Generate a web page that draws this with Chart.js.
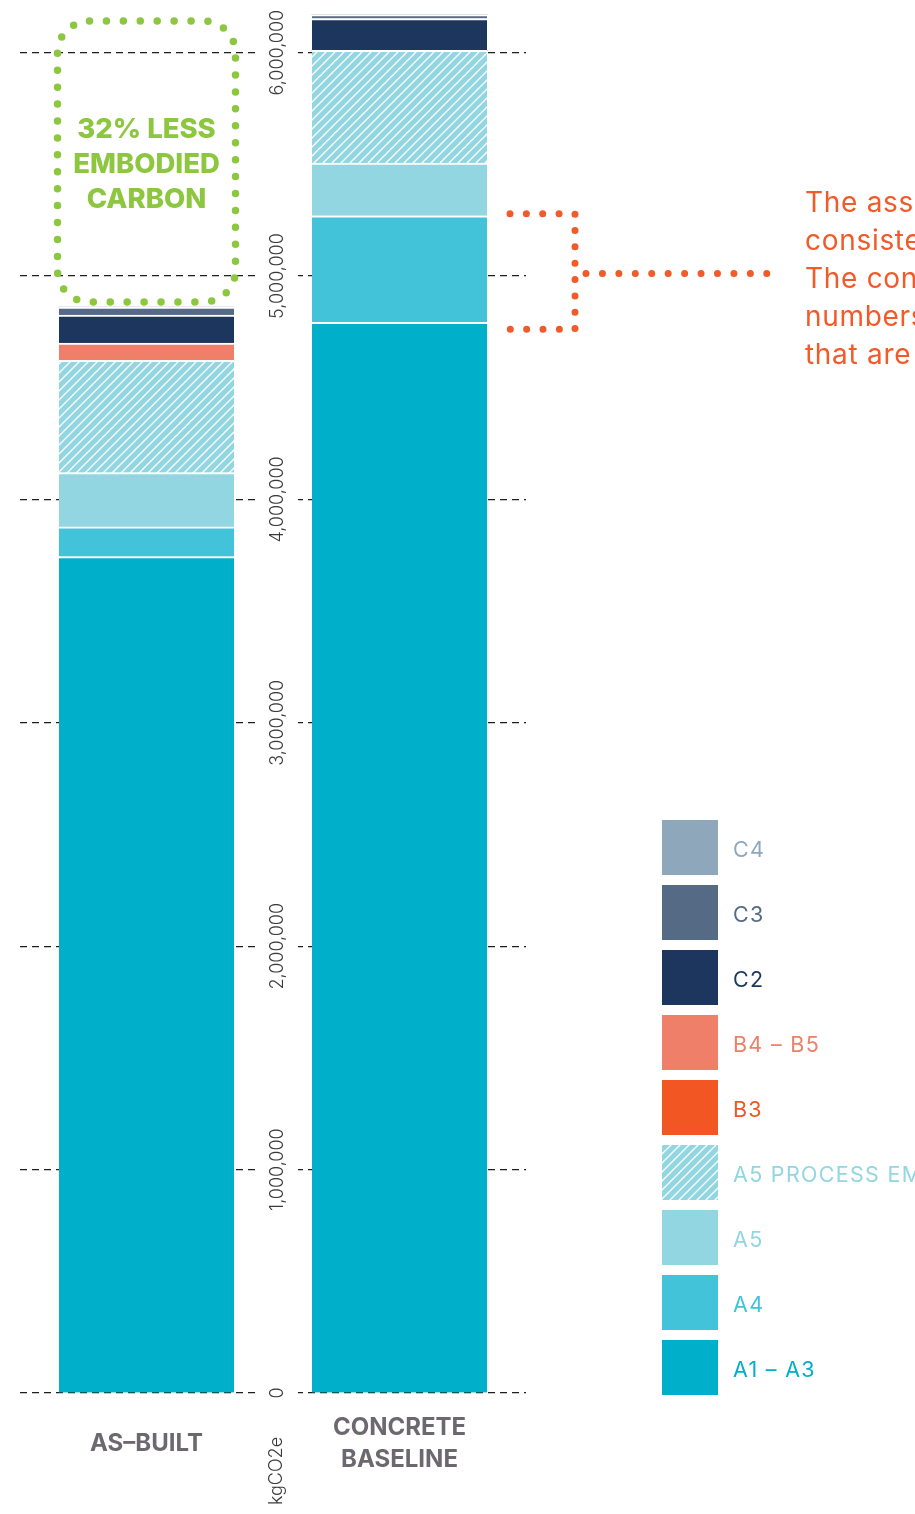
<!DOCTYPE html>
<html>
<head>
<meta charset="utf-8">
<title>Embodied carbon – as-built vs concrete baseline</title>
<script src="https://cdn.jsdelivr.net/npm/chart.js@4.4.1/dist/chart.umd.min.js"></script>
<style>
  html, body { margin: 0; padding: 0; background: #ffffff; overflow: hidden; }
  #stage { position: relative; width: 915px; height: 1514px; overflow: hidden; }
  #chartBox { position: absolute; left: 0; top: 0; width: 915px; height: 1514px; }
  #note {
    position: absolute; left: 805px; top: 183px;
    font: 400 28px/38px Inter, sans-serif; letter-spacing: 0.7px;
    color: #F15A29; white-space: nowrap;
  }
  #legend { position: absolute; left: 662px; top: 820px; }
  #legend .item {
    display: flex; align-items: center; height: 55px; margin-bottom: 10px;
    white-space: nowrap; font: 400 21.5px Inter, sans-serif; letter-spacing: 1.3px;
  }
  #legend .swatch { width: 56px; height: 55px; margin-right: 15px; flex: none; }
  #legend .name { padding-top: 2px; }
</style>
</head>
<body>
<div id="stage">
  <div id="chartBox"><canvas id="chart"></canvas></div>
  <div id="note">The assessment is<br>consistent with<br>The concrete<br>numbers<br>that are</div>
  <div id="legend"></div>
</div>
<script>
// ---- data (kgCO2e) ----
const categories = ['AS–BUILT', ['CONCRETE', 'BASELINE']];
const stageNames = ['A1 – A3', 'A4', 'A5', 'A5 PROCESS EMISSIONS', 'B3', 'B4 – B5', 'C2', 'C3', 'C4'];
const asBuiltValues  = [3744000, 133000, 243000, 503000, 0, 77000, 125000, 36000, 0];
const baselineValues = [4793000, 477000, 236000, 505000, 0, 0, 142000, 17000, 0];
const yTickValues = [0, 1000000, 2000000, 3000000, 4000000, 5000000, 6000000];
const yUnit = 'kgCO2e';
const calloutLines = ['32% LESS', 'EMBODIED', 'CARBON'];

// ---- styles ----
const stageColors = ['#00AFCA', '#43C3D9', '#92D6E2', '#92D6E2', '#F15623', '#EF7F68', '#1C365D', '#546A85', '#8FA7BA'];
const hatchedStage = 3;
const green = '#8DC63F';
const orange = '#F15A29';

// white diagonal hatching on light blue for the process-emissions stage
function makeHatchTile(base) {
  const t = document.createElement('canvas');
  t.width = 9; t.height = 9;
  const g = t.getContext('2d');
  g.fillStyle = base; g.fillRect(0, 0, 9, 9);
  g.strokeStyle = '#ffffff'; g.lineWidth = 1.3;
  g.beginPath();
  g.moveTo(-1, 10); g.lineTo(10, -1);
  g.moveTo(-1, 1);  g.lineTo(1, -1);
  g.moveTo(8, 10);  g.lineTo(10, 8);
  g.stroke();
  return t;
}
const hatchTile = makeHatchTile(stageColors[hatchedStage]);
const hatchFill = document.createElement('canvas').getContext('2d').createPattern(hatchTile, 'repeat');

const fillFor = i => (i === hatchedStage ? hatchFill : stageColors[i]);
const sum = arr => arr.reduce((a, b) => a + b, 0);

// ---- value axis labels, rotated, between the two columns ----
const midAxisLabels = {
  id: 'midAxisLabels',
  beforeDatasetsDraw(chart) {
    const { ctx, scales: { x, y } } = chart;
    const mid = (x.getPixelForValue(0) + x.getPixelForValue(1)) / 2;
    const base = mid + 10;
    ctx.save();
    ctx.font = '300 18px Inter, sans-serif';
    y.ticks.forEach(t => {
      const py = y.getPixelForValue(t.value);
      const label = t.value.toLocaleString('en-US');
      ctx.fillStyle = '#ffffff';
      ctx.fillRect(mid - 13, py - 3, 38, 6);
      ctx.save();
      ctx.translate(base, py);
      ctx.rotate(-Math.PI / 2);
      ctx.textAlign = 'center';
      ctx.textBaseline = 'alphabetic';
      ctx.fillStyle = '#3a3a3a';
      ctx.fillText(label, 0, 0);
      ctx.restore();
    });
    // unit under the axis
    ctx.save();
    ctx.translate(base - 1, chart.chartArea.bottom + 78);
    ctx.rotate(-Math.PI / 2);
    ctx.textAlign = 'center';
    ctx.textBaseline = 'alphabetic';
    ctx.fillStyle = '#3a3a3a';
    ctx.fillText(yUnit, 0, 0);
    ctx.restore();
    ctx.restore();
  }
};

// string of round beads along a polyline, evenly spaced, both ends included
function beadPath(ctx, points, step, color, size) {
  let len = 0;
  for (let i = 1; i < points.length; i++) {
    len += Math.hypot(points[i][0] - points[i - 1][0], points[i][1] - points[i - 1][1]);
  }
  const n = Math.max(1, Math.round(len / step));
  ctx.save();
  ctx.strokeStyle = color; ctx.lineWidth = size; ctx.lineCap = 'round';
  ctx.setLineDash([0, len / n - 0.02]);
  ctx.beginPath();
  ctx.moveTo(points[0][0], points[0][1]);
  for (let i = 1; i < points.length; i++) ctx.lineTo(points[i][0], points[i][1]);
  ctx.stroke();
  ctx.restore();
}

// ---- callouts: green saving badge and orange bracket on baseline A4 ----
const callouts = {
  id: 'callouts',
  afterDatasetsDraw(chart) {
    const { ctx, scales: { x, y } } = chart;
    ctx.save();

    // green dotted rounded frame above the as-built column
    const gx = x.getPixelForValue(0);
    const frameTop = 21;
    const frameBottom = y.getPixelForValue(sum(asBuiltValues)) - 5;
    const fw = 178, fh = frameBottom - frameTop, r = 32;
    const perim = 2 * (fw - 2 * r) + 2 * (fh - 2 * r) + 2 * Math.PI * r;
    const n = Math.round(perim / 17);
    ctx.strokeStyle = green; ctx.lineWidth = 7.5; ctx.lineCap = 'round';
    ctx.setLineDash([0, perim / n]);
    ctx.beginPath();
    ctx.roundRect(gx - fw / 2, frameTop, fw, fh, r);
    ctx.stroke();
    ctx.setLineDash([]);

    ctx.fillStyle = green;
    ctx.font = '800 27.5px Inter, sans-serif';
    ctx.textAlign = 'center';
    ctx.textBaseline = 'middle';
    calloutLines.forEach((line, i) => ctx.fillText(line, gx, 130 + i * 35));

    // orange bracket spanning the baseline A4 segment
    const a4Top = y.getPixelForValue(baselineValues[0] + baselineValues[1]) - 2;
    const a4Bottom = y.getPixelForValue(baselineValues[0]) + 7;
    const barRight = x.getPixelForValue(1) + 87.5;
    const x0 = barRight + 23, xc = barRight + 88;
    beadPath(ctx, [[x0, a4Top], [xc, a4Top], [xc, a4Bottom], [x0, a4Bottom]], 16.4, orange, 7);
    const ym = (a4Top + a4Bottom) / 2 + 2;
    beadPath(ctx, [[xc + 11, ym], [xc + 192, ym]], 16.4, orange, 7);

    ctx.restore();
  }
};

Chart.defaults.font.family = 'Inter, sans-serif';

new Chart(document.getElementById('chart'), {
  type: 'bar',
  data: {
    labels: categories,
    datasets: stageNames.map((name, i) => ({
      label: name,
      data: [asBuiltValues[i], baselineValues[i]],
      backgroundColor: fillFor(i),
      borderColor: '#ffffff',
      borderWidth: { top: 2, right: 0, bottom: 0, left: 0 },
      borderSkipped: false,
      barThickness: 175
    }))
  },
  options: {
    responsive: true,
    maintainAspectRatio: false,
    animation: false,
    events: [],
    layout: { padding: { left: 20, right: 389, top: 8, bottom: 0 } },
    plugins: { legend: { display: false }, tooltip: { enabled: false } },
    scales: {
      x: {
        stacked: true,
        grid: { display: false, drawTicks: false },
        border: { display: false },
        ticks: {
          color: '#6D6870',
          font: { family: 'Inter, sans-serif', weight: '700', size: 24, lineHeight: 32 / 24 },
          padding: 35,
          crossAlign: 'center',
          maxRotation: 0,
          autoSkip: false
        },
        afterFit(scale) { scale.height = 121; }
      },
      y: {
        stacked: true,
        position: 'left',
        min: 0,
        max: 6200000,
        afterBuildTicks(scale) { scale.ticks = yTickValues.map(v => ({ value: v })); },
        ticks: { display: false },
        grid: { color: '#1e1e1e', lineWidth: 1.2, drawTicks: false },
        border: { display: false, dash: [7, 5] },
        afterFit(scale) { scale.width = 0; }
      }
    }
  },
  plugins: [midAxisLabels, callouts]
});

// ---- legend, top-down from C4 to A1 – A3 ----
const legend = document.getElementById('legend');
stageNames.map((name, i) => ({ name, i })).reverse().forEach(({ name, i }) => {
  const item = document.createElement('div');
  item.className = 'item';
  const sw = document.createElement('div');
  sw.className = 'swatch';
  if (i === hatchedStage) sw.style.background = 'url(' + hatchTile.toDataURL() + ')';
  else sw.style.background = stageColors[i];
  const label = document.createElement('span');
  label.className = 'name';
  label.textContent = name;
  label.style.color = stageColors[i];
  item.appendChild(sw);
  item.appendChild(label);
  legend.appendChild(item);
});
</script>
</body>
</html>
